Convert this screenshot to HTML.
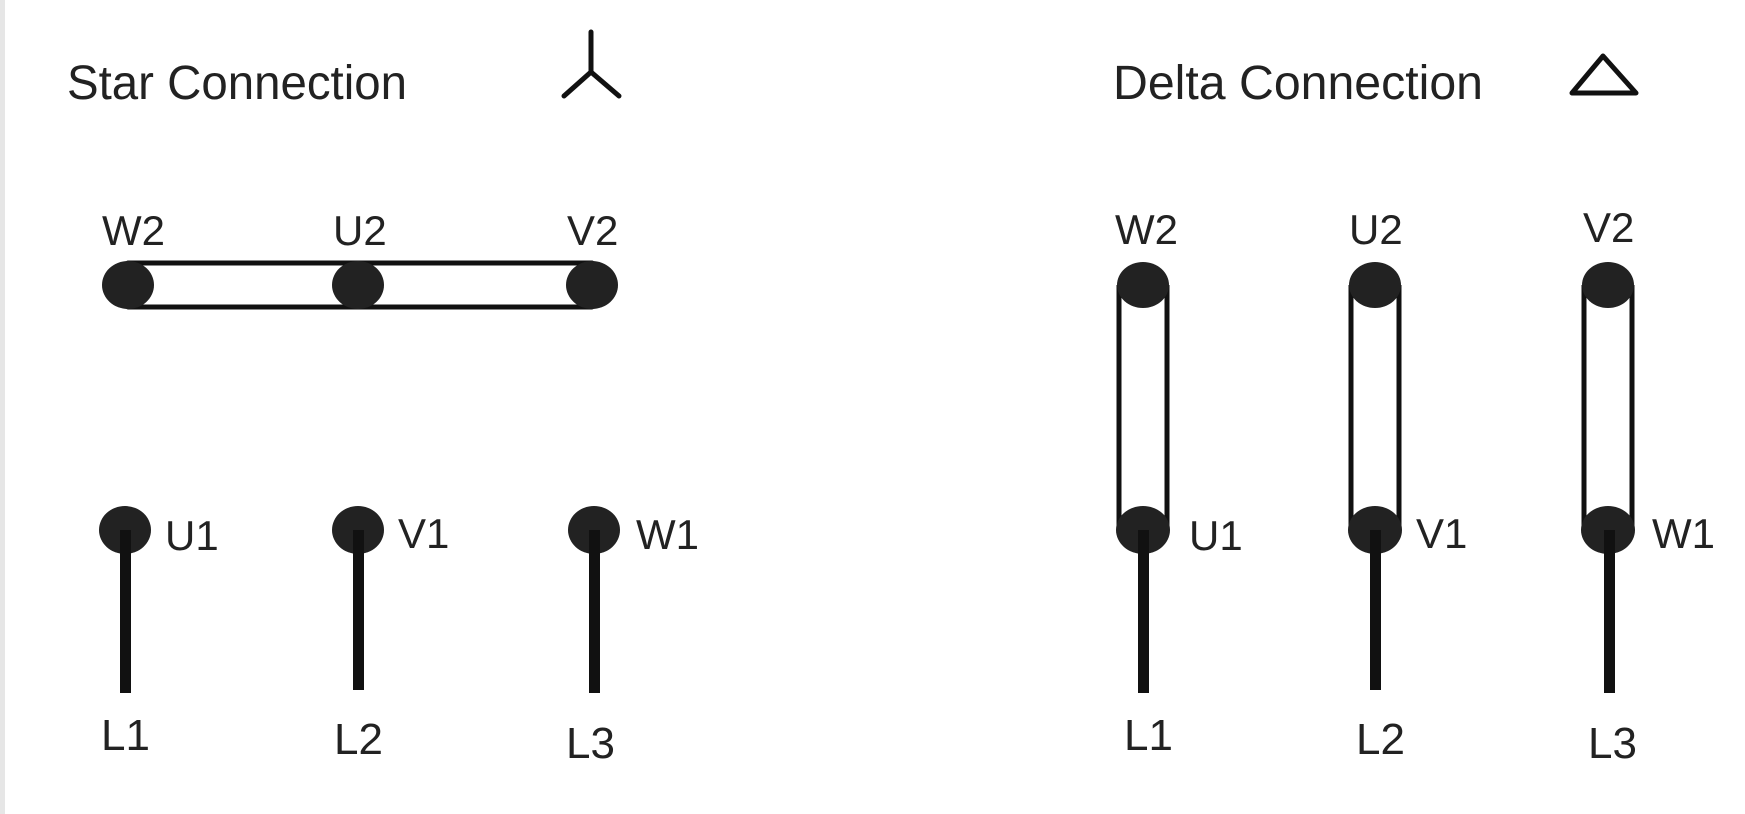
<!DOCTYPE html>
<html><head><meta charset="utf-8"><style>
html,body{margin:0;padding:0;background:#fff;}
svg{display:block;}
text{font-family:"Liberation Sans",sans-serif;fill:#222;}
</style></head><body>
<svg width="1745" height="814" viewBox="0 0 1745 814" xmlns="http://www.w3.org/2000/svg">
<rect x="0" y="0" width="1745" height="814" fill="#fff"/>
<rect x="0" y="0" width="5" height="814" fill="#e6e6e6"/>
<!-- Star -->
<text x="67" y="99" font-size="48" textLength="340" lengthAdjust="spacingAndGlyphs">Star Connection</text>
<g stroke="#111" stroke-width="5" fill="none" stroke-linecap="round">
<line x1="591" y1="32" x2="591" y2="72"/>
<line x1="591" y1="72" x2="564" y2="96"/>
<line x1="591" y1="72" x2="619" y2="96"/>
<line x1="128" y1="263" x2="592" y2="263"/>
<line x1="128" y1="307" x2="592" y2="307"/>
</g>
<g fill="#222">
<ellipse cx="128" cy="285" rx="26" ry="24"/>
<ellipse cx="358" cy="285" rx="26" ry="24"/>
<ellipse cx="592" cy="285" rx="26" ry="24"/>
<ellipse cx="125" cy="530" rx="26" ry="24"/>
<ellipse cx="358" cy="530" rx="26" ry="24"/>
<ellipse cx="594" cy="530" rx="26" ry="24"/>
<rect x="120" y="530" width="11" height="163" fill="#111"/>
<rect x="353" y="530" width="11" height="160" fill="#111"/>
<rect x="589" y="530" width="11" height="163" fill="#111"/>
</g>
<g font-size="42">
<text x="102" y="245">W2</text>
<text x="333" y="245">U2</text>
<text x="567" y="245">V2</text>
<text x="165" y="550">U1</text>
<text x="398" y="548">V1</text>
<text x="636" y="549">W1</text>
</g>
<g font-size="44">
<text x="101" y="750">L1</text>
<text x="334" y="754">L2</text>
<text x="566" y="758">L3</text>
</g>
<!-- Delta -->
<text x="1113" y="99" font-size="48" textLength="370" lengthAdjust="spacingAndGlyphs">Delta Connection</text>
<polygon points="1603,56 1572,93 1636,93" fill="none" stroke="#111" stroke-width="5" stroke-linejoin="round"/>
<g stroke="#111" stroke-width="5" fill="none">
<line x1="1119" y1="285" x2="1119" y2="530"/><line x1="1167" y1="285" x2="1167" y2="530"/>
<line x1="1351" y1="285" x2="1351" y2="530"/><line x1="1399" y1="285" x2="1399" y2="530"/>
<line x1="1584" y1="285" x2="1584" y2="530"/><line x1="1632" y1="285" x2="1632" y2="530"/>
</g>
<g fill="#222">
<ellipse cx="1143" cy="285" rx="26" ry="23"/>
<ellipse cx="1375" cy="285" rx="26" ry="23"/>
<ellipse cx="1608" cy="285" rx="26" ry="23"/>
<ellipse cx="1143" cy="530" rx="27" ry="24"/>
<ellipse cx="1375" cy="530" rx="27" ry="24"/>
<ellipse cx="1608" cy="530" rx="27" ry="24"/>
<rect x="1138" y="530" width="11" height="163" fill="#111"/>
<rect x="1370" y="530" width="11" height="160" fill="#111"/>
<rect x="1604" y="530" width="11" height="163" fill="#111"/>
</g>
<g font-size="42">
<text x="1115" y="244">W2</text>
<text x="1349" y="244">U2</text>
<text x="1583" y="242">V2</text>
<text x="1189" y="550">U1</text>
<text x="1416" y="548">V1</text>
<text x="1652" y="548">W1</text>
</g>
<g font-size="44">
<text x="1124" y="750">L1</text>
<text x="1356" y="754">L2</text>
<text x="1588" y="758">L3</text>
</g>
</svg>
</body></html>
